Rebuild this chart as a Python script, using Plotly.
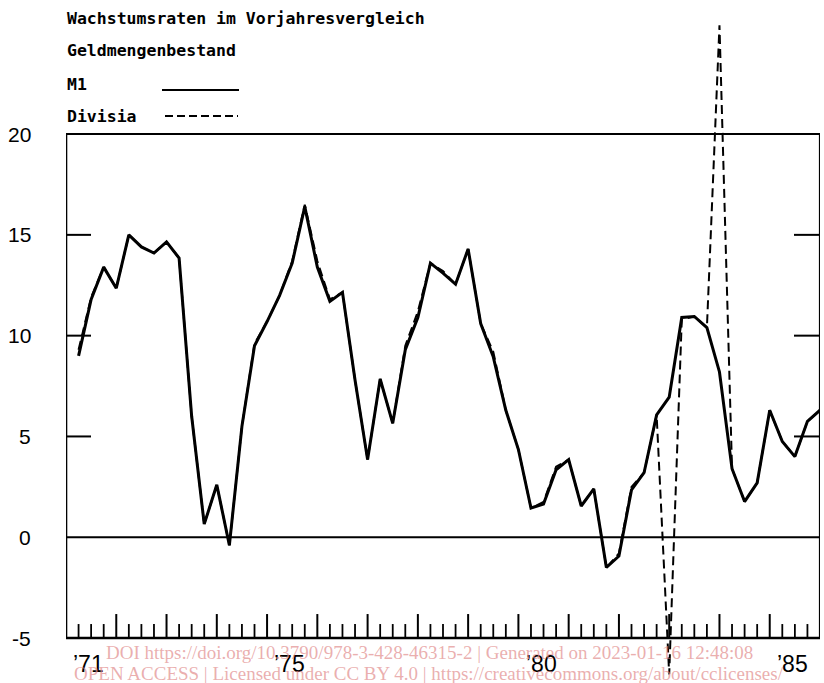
import plotly.graph_objects as go

# ---------------- data (quarterly growth rates, % y/y) ----------------
years = list(range(1971, 1986))
quarters = [(y, q) for y in years for q in range(1, 5)]

m1 = [9.0, 11.8, 13.4, 12.35,
      15.0, 14.4, 14.1, 14.65,
      13.85, 6.0, 0.65, 2.6,
      -0.4, 5.5, 9.5, 10.7,
      12.0, 13.6, 16.4, 13.4,
      11.7, 12.15, 7.8, 3.85,
      7.85, 5.65, 9.3, 10.9,
      13.6, 13.1, 12.55, 14.3,
      10.6, 8.95, 6.3, 4.35,
      1.45, 1.65, 3.35, 3.85,
      1.55, 2.4, -1.5, -0.93,
      2.35, 3.2, 6.07, 6.95,
      10.9, 10.95, 10.4, 8.2,
      3.4, 1.77, 2.7, 6.3,
      4.75, 4.0, 5.75, 6.3]

divisia = [9.3, 11.9, 13.4, 12.35,
           15.0, 14.4, 14.1, 14.65,
           13.85, 6.0, 0.65, 2.6,
           -0.4, 5.5, 9.6, 10.7,
           12.0, 13.7, 16.5, 13.7,
           11.8, 12.15, 7.8, 3.85,
           7.85, 5.65, 9.5, 11.2,
           13.6, 13.2, 12.55, 14.3,
           10.6, 9.2, 6.3, 4.35,
           1.45, 1.75, 3.5, 3.85,
           1.55, 2.4, -1.5, -0.8,
           2.5, 3.2, 6.07, -6.8,
           10.8, 10.95, 10.4, 25.4,
           3.4, 1.77, 2.7, 6.3,
           4.75, 4.0, 5.75, 6.3]

y_tick_values = [20, 15, 10, 5, 0, -5]
y_tick_labels = ["20", "15", "10", "5", "0", "-5"]
y_inner_ticks = [5, 10, 15]
x_label_years = [1971, 1975, 1980, 1985]
x_labels = ["\u201971", "\u201975", "\u201980", "\u201985"]

title_lines = ["Wachstumsraten im Vorjahresvergleich", "Geldmengenbestand"]
legend_names = ["M1", "Divisia"]
watermark = ["DOI https://doi.org/10.3790/978-3-428-46315-2 | Generated on 2023-01-16 12:48:08",
             "OPEN ACCESS | Licensed under CC BY 4.0 | https://creativecommons.org/about/cclicenses/"]

# x position of each quarter: end of the quarter
xq = [y + q * 0.25 for (y, q) in quarters]

# ---------------- layout geometry ----------------
W, H = 824, 683
L, R, T, B = 66, 4, 0, 0
X0, X1 = 1971, 1986
Y0, Y1 = -7.23, 26.65
PW, PH = W - L - R, H - T - B
ypx = PH / (Y1 - Y0)       # pixels per unit on y
xpx = PW / (X1 - X0)       # pixels per year


def px_x(p):
    return (p - L) / PW


def px_y(p):
    return 1 - (p - T) / PH


fig = go.Figure()
fig.add_trace(go.Scatter(x=xq, y=m1, mode="lines", name="M1",
                         line=dict(color="black", width=3), hoverinfo="skip"))
fig.add_trace(go.Scatter(x=xq, y=divisia, mode="lines", name="Divisia",
                         line=dict(color="black", width=2, dash="9px,5px"), hoverinfo="skip"))

shapes = []
ln = lambda w: dict(color="black", width=w)
# frame
shapes.append(dict(type="line", xref="x", yref="y", x0=X0, x1=X0, y0=-5, y1=20, line=ln(2.6)))
shapes.append(dict(type="line", xref="x", yref="y", x0=X1, x1=X1, y0=-5, y1=20, line=ln(2.2)))
shapes.append(dict(type="line", xref="x", yref="y", x0=X0, x1=X1, y0=20, y1=20, line=ln(2)))
shapes.append(dict(type="line", xref="x", yref="y", x0=X0, x1=X1, y0=-5, y1=-5, line=ln(2.6)))
shapes.append(dict(type="line", xref="x", yref="y", x0=X0, x1=X1, y0=0, y1=0, line=ln(2)))
# y ticks, left and right, inside
for v in y_inner_ticks:
    shapes.append(dict(type="line", xref="x", yref="y", x0=X0, x1=X0 + 25 / xpx, y0=v, y1=v, line=ln(2)))
    shapes.append(dict(type="line", xref="x", yref="y", x0=X1 - 26 / xpx, x1=X1, y0=v, y1=v, line=ln(2)))
# x ticks: quarterly short, yearly long
for (y, q) in quarters:
    xv = y + q * 0.25
    if xv >= X1:
        continue
    long_tick = (q == 4)
    length = (24 if long_tick else 14) / ypx
    shapes.append(dict(type="line", xref="x", yref="y", x0=xv, x1=xv, y0=-5, y1=-5 + length,
                       line=ln(2 if long_tick else 1.8)))
# legend samples
shapes.append(dict(type="line", xref="paper", yref="paper", x0=px_x(162), x1=px_x(239),
                   y0=px_y(90), y1=px_y(90), line=ln(1.8)))
shapes.append(dict(type="line", xref="paper", yref="paper", x0=px_x(165), x1=px_x(238),
                   y0=px_y(116), y1=px_y(116), line=dict(color="black", width=1.8, dash="8px,4px")))

ann = []
tfont = dict(family="DejaVu Sans Mono", size=16.5, color="black", weight="bold")
for i, txt in enumerate(title_lines + legend_names):
    ypos = [18, 50, 84, 116][i]
    ann.append(dict(text=txt, xref="paper", yref="paper", x=px_x(65), y=px_y(ypos),
                    xanchor="left", yanchor="middle", showarrow=False, font=tfont))
lfont = dict(family="Liberation Sans", size=21, color="black")
for v, t in zip(y_tick_values, y_tick_labels):
    ann.append(dict(text=t, xref="paper", yref="y", x=px_x(33), y=v, yshift=0,
                    xanchor="right", yanchor="middle", showarrow=False, font=lfont))
xfont = dict(family="Liberation Sans", size=23, color="black")
for yr, t in zip(x_label_years, x_labels):
    ann.append(dict(text=t, xref="x", yref="paper", x=yr + 0.45, y=px_y(664),
                    xanchor="center", yanchor="middle", showarrow=False, font=xfont))
wfont = dict(family="Liberation Serif", size=19, color="rgba(225,140,140,0.7)")
for i, t in enumerate(watermark):
    ann.append(dict(text=t, xref="paper", yref="paper", x=px_x(429), y=px_y([652, 673][i]),
                    xanchor="center", yanchor="middle", showarrow=False, font=wfont))

fig.update_layout(
    width=W, height=H, autosize=False,
    margin=dict(l=L, r=R, t=T, b=B, pad=0),
    paper_bgcolor="white", plot_bgcolor="white",
    showlegend=False,
    xaxis=dict(range=[X0, X1], visible=False, fixedrange=True),
    yaxis=dict(range=[Y0, Y1], visible=False, fixedrange=True),
    shapes=shapes, annotations=ann,
)
fig.write_html("out.html", config={"displayModeBar": False},
               post_script="document.body.style.margin='0px';document.body.style.padding='0px';")
